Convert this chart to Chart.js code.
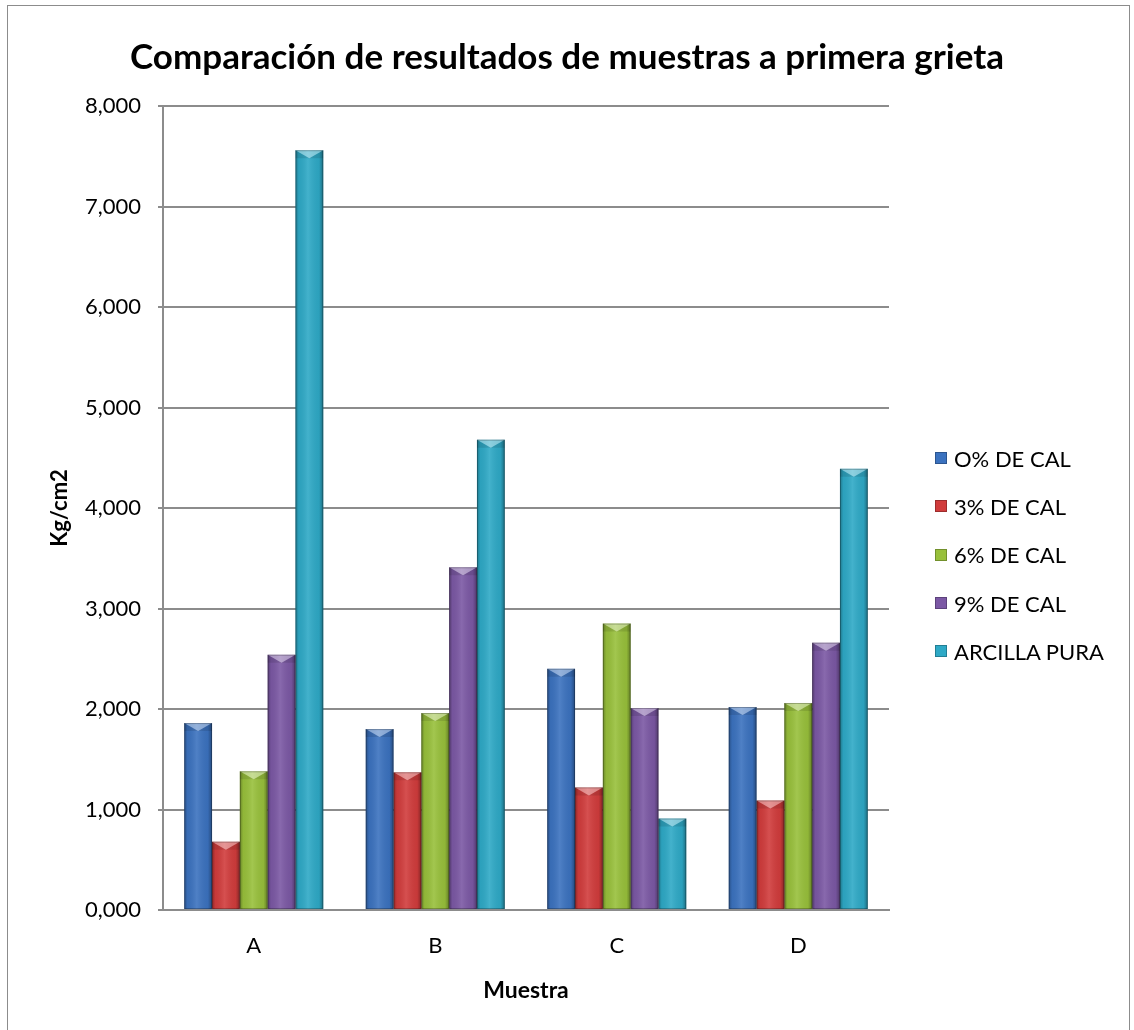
<!DOCTYPE html>
<html>
<head>
<meta charset="utf-8">
<script src="https://cdn.jsdelivr.net/npm/chart.js@4.4.1/dist/chart.umd.min.js"></script>
<style>
  html, body { margin: 0; padding: 0; background: #fff; }
  #wrap { position: relative; width: 1134px; height: 1030px; overflow: hidden; }
  #frame { position: absolute; left: 7px; top: 5px; width: 1123px; height: 1040px; border: 1px solid #8c8c8c; box-sizing: border-box; }
  #grieta { position: absolute; left: 0; top: 0; }
  #titulo { position: absolute; left: 0; top: 34px; width: 1134px; text-align: center; font-family: Lato, sans-serif; font-weight: bold; font-size: 35px; line-height: 42px; color: #000; }
  #legend { position: absolute; left: 935px; top: 434px; font-family: Lato, sans-serif; font-size: 22px; color: #000; }
  #legend div { height: 48.3px; display: flex; align-items: center; white-space: nowrap; }
  #legend span.box { width: 12px; height: 12px; margin-right: 7px; display: inline-block; box-shadow: inset 0 0 0 1px rgba(0,0,0,0.25); }
</style>
</head>
<body>
<div id="wrap">
  <div id="frame"></div>
  <canvas id="grieta" width="1134" height="1030"></canvas>
  <div id="titulo">Comparación de resultados de muestras a primera grieta</div>
  <div id="legend"></div>
</div>
<script>
const muestras = ['A', 'B', 'C', 'D'];
const series = ['O% DE CAL', '3% DE CAL', '6% DE CAL', '9% DE CAL', 'ARCILLA PURA'];
const cal0 = [1.86, 1.80, 2.40, 2.02];
const cal3 = [0.68, 1.37, 1.22, 1.09];
const cal6 = [1.38, 1.96, 2.85, 2.06];
const cal9 = [2.54, 3.41, 2.01, 2.66];
const arcilla = [7.56, 4.68, 0.91, 4.39];
const colores = ['#3b72bf', '#d13c3c', '#98c03b', '#7b58a4', '#2ea9c6'];
const valores = [cal0, cal3, cal6, cal9, arcilla];

const fmt = v => v.toFixed(3).replace('.', ',');

// gradient, bevelled top and dark edge on every bar
const bevel = {
    id: 'bevel',
    afterDatasetsDraw(chart) {
        const ctx = chart.ctx;
        chart.data.datasets.forEach((ds, i) => {
            chart.getDatasetMeta(i).data.forEach(bar => {
                const w = bar.width;
                const x0 = bar.x - w / 2;
                const top = bar.y;
                const h = bar.base - bar.y;
                ctx.save();
                const g = ctx.createLinearGradient(x0, 0, x0 + w, 0);
                g.addColorStop(0, 'rgba(0,0,0,0.30)');
                g.addColorStop(0.12, 'rgba(0,0,0,0.05)');
                g.addColorStop(0.45, 'rgba(255,255,255,0.10)');
                g.addColorStop(0.85, 'rgba(0,0,0,0.05)');
                g.addColorStop(1, 'rgba(0,0,0,0.35)');
                ctx.fillStyle = g;
                ctx.fillRect(x0, top, w, h);
                const bh = 8;
                ctx.beginPath();
                ctx.moveTo(x0, top);
                ctx.lineTo(x0 + w / 2, top + bh);
                ctx.lineTo(x0 + w, top);
                ctx.lineTo(x0 + w, top + bh);
                ctx.lineTo(x0, top + bh);
                ctx.closePath();
                ctx.fillStyle = 'rgba(0,0,0,0.10)';
                ctx.fill();
                // light triangle on top
                ctx.beginPath();
                ctx.moveTo(x0, top);
                ctx.lineTo(x0 + w, top);
                ctx.lineTo(x0 + w / 2, top + bh);
                ctx.closePath();
                ctx.fillStyle = 'rgba(255,255,255,0.40)';
                ctx.fill();
                ctx.strokeStyle = 'rgba(0,0,0,0.25)';
                ctx.lineWidth = 1;
                ctx.strokeRect(x0 + 0.5, top + 0.5, w - 1, h - 1);
                ctx.restore();
            });
        });
    }
};

new Chart(document.getElementById('grieta'), {
    type: 'bar',
    data: {
        labels: muestras,
        datasets: series.map((name, i) => ({
            label: name,
            data: valores[i],
            backgroundColor: colores[i],
            borderWidth: 0,
            categoryPercentage: 0.766,
            barPercentage: 1
        }))
    },
    options: {
        responsive: false,
        animation: false,
        layout: { padding: { left: 7, top: 106, right: 245, bottom: 20 } },
        plugins: {
            legend: { display: false },
            tooltip: { enabled: false },
            title: { display: false }
        },
        scales: {
            x: {
                grid: { display: false },
                border: { display: true, color: '#8c8c8c', width: 2 },
                ticks: { color: '#000', font: { family: 'Lato', size: 22 }, padding: 15 },
                title: {
                    display: true, text: 'Muestra', color: '#000',
                    font: { family: 'Lato', size: 23, weight: 'bold' },
                    padding: { top: 0, bottom: 6 }
                },
                afterFit: s => { s.height = 100; }
            },
            y: {
                min: 0,
                max: 8,
                grid: { color: '#8c8c8c', lineWidth: 2, tickLength: 5 },
                border: { display: true, color: '#8c8c8c', width: 2 },
                ticks: { stepSize: 1, color: '#000', font: { family: 'Lato', size: 22 }, padding: 17, callback: v => fmt(v) },
                title: {
                    display: true, text: 'Kg/cm2', color: '#000',
                    font: { family: 'Lato', size: 22, weight: 'bold' },
                    padding: { top: 40, bottom: 0 }
                },
                afterFit: s => { s.width = 156; }
            }
        }
    },
    plugins: [bevel]
});

const legend = document.getElementById('legend');
series.forEach((name, i) => {
    const row = document.createElement('div');
    const box = document.createElement('span');
    box.className = 'box';
    box.style.background = colores[i];
    row.appendChild(box);
    row.appendChild(document.createTextNode(name));
    legend.appendChild(row);
});
</script>
</body>
</html>
